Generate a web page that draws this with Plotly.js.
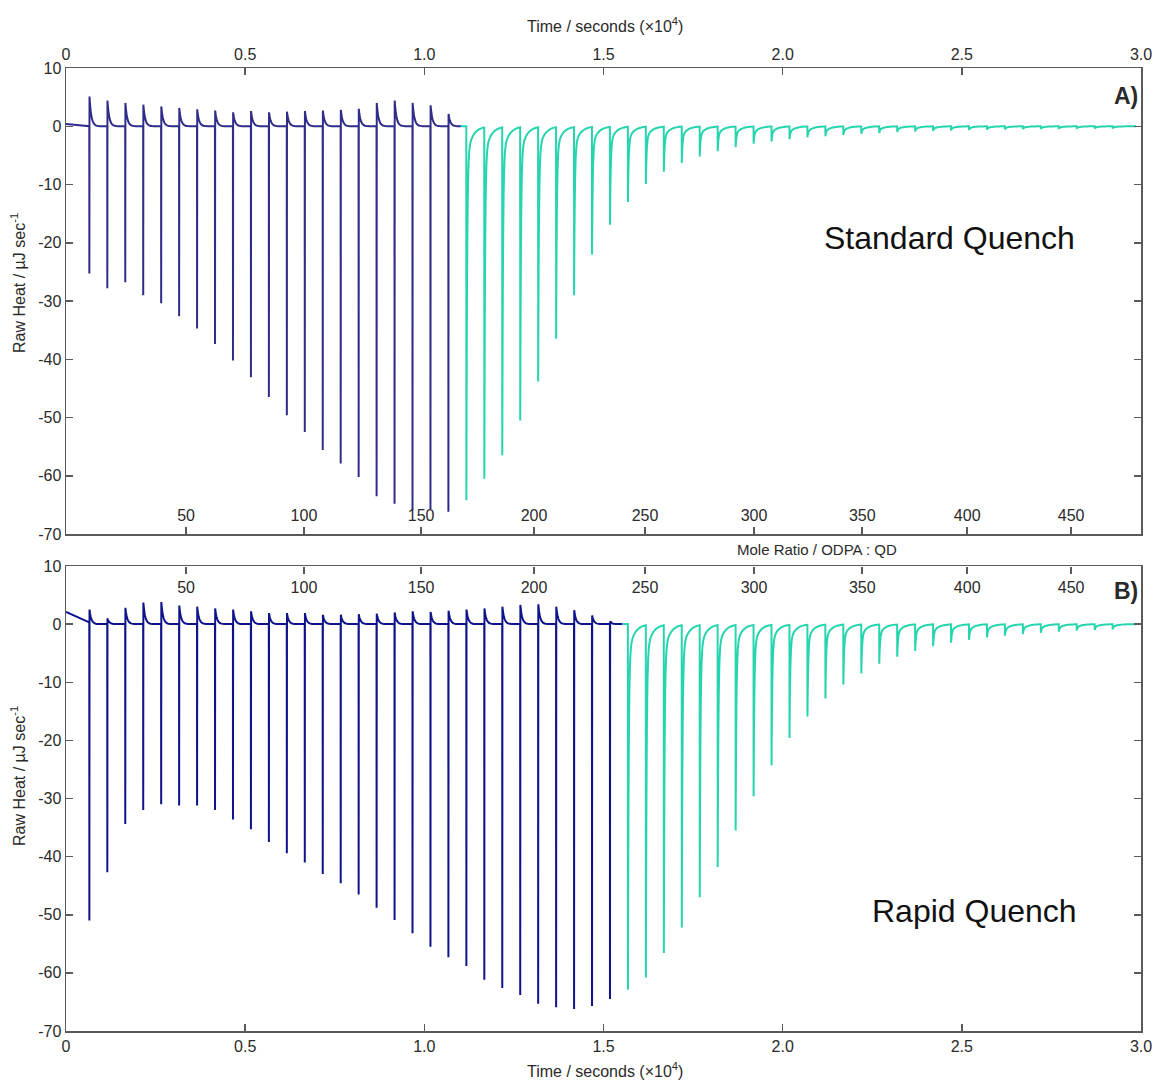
<!DOCTYPE html>
<html>
<head>
<meta charset="utf-8">
<script src="https://cdn.plot.ly/plotly-3.0.1.min.js"></script>
<style>
html,body{margin:0;padding:0;background:#fff;}
#chart{width:1164px;height:1081px;}
</style>
</head>
<body>
<div id="chart"></div>
<script>
// ---------------- DATA ----------------
// injection times, seconds (shared by both experiments)
const injectionTimes = [650, 1151, 1652, 2153, 2654, 3155, 3656, 4157, 4658, 5159,
  5660, 6161, 6662, 7163, 7664, 8165, 8666, 9167, 9668, 10169,
  10670, 11171, 11672, 12173, 12674, 13175, 13676, 14177, 14678, 15179,
  15680, 16181, 16682, 17183, 17684, 18185, 18686, 19187, 19688, 20189,
  20690, 21191, 21692, 22193, 22694, 23195, 23696, 24197, 24698, 25199,
  25700, 26201, 26702, 27203, 27704, 28205, 28706, 29207];
const endTime = 29860;

// A) Standard Quench
const darkCountA = 21;
const peakMinA = [-25.3, -27.8, -26.8, -29.0, -30.4, -32.6, -34.7, -37.4, -40.2, -43.1,
  -46.5, -49.6, -52.5, -55.6, -57.9, -60.2, -63.5, -64.8, -65.8, -65.7,
  -66.2, -64.2, -60.5, -56.5, -50.5, -43.8, -36.5, -29.0, -22.0, -16.9,
  -13.0, -9.9, -7.8, -6.3, -5.2, -4.3, -3.6, -3.0, -2.6, -2.2,
  -1.9, -1.7, -1.5, -1.3, -1.15, -1.0, -0.9, -0.8, -0.72, -0.65,
  -0.6, -0.55, -0.5, -0.48, -0.45, -0.42, -0.4, -0.38];
const peakMaxA = [5.1, 4.4, 4.0, 3.7, 3.4, 3.15, 2.9, 2.7, 2.4, 2.6,
  2.4, 2.5, 2.6, 2.7, 2.8, 3.0, 4.0, 4.4, 4.0, 3.6, 2.1];
const startLevelsA = [0.4, 0.0];

// B) Rapid Quench
const darkCountB = 30;
const peakMinB = [-51.0, -42.7, -34.4, -32.0, -31.0, -31.2, -31.2, -32.0, -33.6, -35.3,
  -37.5, -39.4, -41.0, -43.0, -44.6, -46.5, -48.8, -50.9, -53.2, -55.5,
  -57.3, -58.8, -61.2, -62.6, -63.8, -65.3, -65.9, -66.2, -65.7, -64.5,
  -62.9, -60.8, -56.6, -52.2, -47.0, -41.8, -35.5, -29.6, -24.3, -19.6,
  -15.9, -12.8, -10.4, -8.5, -6.8, -5.6, -4.6, -3.8, -3.2, -2.7,
  -2.3, -2.0, -1.7, -1.5, -1.3, -1.1, -1.0, -0.9];
const peakMaxB = [2.5, 1.0, 2.8, 3.7, 3.8, 3.2, 3.0, 2.7, 2.5, 2.2,
  1.9, 1.9, 1.9, 1.6, 1.6, 1.7, 1.8, 2.0, 2.2, 2.1,
  2.3, 2.5, 2.7, 3.0, 3.3, 3.4, 3.0, 2.4, 1.5, 0.5];
const startLevelsB = [2.1, 0.3];

// axis ticks
const timeTickVals = [0, 5000, 10000, 15000, 20000, 25000, 30000];
const timeTickText = ['0', '0.5', '1.0', '1.5', '2.0', '2.5', '3.0'];
const heatTickVals = [-70, -60, -50, -40, -30, -20, -10, 0, 10];
const heatTickText = ['-70', '-60', '-50', '-40', '-30', '-20', '-10', '0', '10'];
const moleRatioLabels = ['50', '100', '150', '200', '250', '300', '350', '400', '450'];
const moleRatioTimes = [3350, 6640, 9910, 13060, 16160, 19200, 22220, 25150, 28050];

// ---------------- BUILD TRACE SHAPES ----------------
const SCALE = 1e4; // axis unit: x10^4 s
const frac = [0.004, 0.012, 0.02, 0.03, 0.045, 0.06, 0.08, 0.1, 0.13, 0.16, 0.2, 0.25,
  0.3, 0.36, 0.43, 0.5, 0.6, 0.7, 0.8, 0.9, 1.0, 1.1, 1.2, 1.3];

function kernelDark(mx, f) { // after spike: positive overshoot decaying
  return mx * Math.exp(-(f - 0.012) / 0.1);
}
function kernelGreen(mn, f) { // recovery after the negative spike
  const u = f - 0.004;
  const slow = -Math.min(0.7 * Math.sqrt(-mn), -0.5 * mn);
  const fast = mn - slow;
  return fast * Math.exp(-u / 0.04) + slow * Math.exp(-u / 0.3);
}

function buildPanel(mins, maxs, nDark, startLevels) {
  const T = injectionTimes;
  const N = T.length;
  const pts = [];
  pts.push([0, startLevels[0]]);
  pts.push([T[0], startLevels[1]]);
  for (let i = 0; i < N; i++) {
    const t = T[i];
    const D = i < N - 1 ? T[i + 1] - t : t - T[i - 1];
    const limit = i < N - 1 ? T[i + 1] : endTime;
    pts.push([t + 0.004 * D, mins[i]]);
    for (const f of frac) {
      if (f <= 0.004) continue;
      const x = t + f * D;
      if (x > limit + 1e-6) break;
      let y;
      if (i < nDark) {
        if (f < 0.012) continue;
        y = kernelDark(maxs[i], f);
      } else {
        y = kernelGreen(mins[i], f);
      }
      pts.push([x, y]);
    }
    if (i === N - 1) {
      const f = (endTime - t) / D;
      pts.push([endTime, kernelGreen(mins[i], f)]);
    }
  }
  const tSwitch = T[nDark - 1] + 0.7 * (T[nDark] - T[nDark - 1]);
  const dark = {x: [], y: []}, green = {x: [], y: []};
  for (const p of pts) {
    if (p[0] <= tSwitch + 1e-6) { dark.x.push(p[0] / SCALE); dark.y.push(p[1]); }
    if (p[0] >= tSwitch - 1e-6) { green.x.push(p[0] / SCALE); green.y.push(p[1]); }
  }
  return {dark, green};
}

const panelA = buildPanel(peakMinA, peakMaxA, darkCountA, startLevelsA);
const panelB = buildPanel(peakMinB, peakMaxB, darkCountB, startLevelsB);

const COL_DARK_A = '#302c8a';
const COL_DARK_B = '#0f138b';
const COL_GREEN = '#26d5ae';

function lineTrace(d, color, xa, ya) {
  return {x: d.x, y: d.y, type: 'scatter', mode: 'lines', xaxis: xa, yaxis: ya,
    line: {color: color, width: 2, simplify: false}, hoverinfo: 'skip', showlegend: false};
}

const traces = [
  lineTrace(panelA.dark, COL_DARK_A, 'x', 'y'),
  lineTrace(panelA.green, COL_GREEN, 'x', 'y'),
  lineTrace(panelB.dark, COL_DARK_B, 'x2', 'y2'),
  lineTrace(panelB.green, COL_GREEN, 'x2', 'y2'),
  {x: [], y: [], type: 'scatter', mode: 'lines', xaxis: 'x3', yaxis: 'y', showlegend: false},
  {x: [], y: [], type: 'scatter', mode: 'lines', xaxis: 'x4', yaxis: 'y2', showlegend: false}
];

// ---------------- LAYOUT ----------------
const W = 1164, H = 1081;
const PX = v => v / W, PY = v => 1 - v / H;
const domX = [66 / W, 1141 / W];
const domA = [PY(534), PY(68)];
const domB = [PY(1031), PY(566)];
const FONT = 'Liberation Sans, Arial, Helvetica, sans-serif';
const AXC = '#5a5a5a';
const TXT = '#2a2a2a';
const tickFont = {family: FONT, size: 16, color: TXT};

const timeRange = [0, 30000 / SCALE];
function timeAxis(side, anchor) {
  return {domain: domX, range: timeRange, anchor: anchor, side: side,
    tickmode: 'array', tickvals: timeTickVals.map(v => v / SCALE), ticktext: timeTickText,
    ticks: 'inside', ticklen: 7, tickwidth: 1.5, tickcolor: AXC,
    showline: true, linecolor: AXC, linewidth: 1.5, mirror: true,
    showgrid: false, zeroline: false, tickfont: tickFont, fixedrange: true};
}
function heatAxis(domain, anchor) {
  return {domain: domain, range: [-70, 10], anchor: anchor,
    tickmode: 'array', tickvals: heatTickVals, ticktext: heatTickText,
    ticks: 'inside', ticklen: 7, tickwidth: 1.5, tickcolor: AXC,
    showline: true, linecolor: AXC, linewidth: 1.5, mirror: 'ticks',
    showgrid: false, zeroline: false, tickfont: tickFont, fixedrange: true};
}
// mole-ratio scale drawn as a free axis sitting on the inner edge of each panel
function moleAxis(over, side, pos) {
  return {overlaying: over, anchor: 'free', position: pos, side: side, range: timeRange,
    tickmode: 'array', tickvals: moleRatioTimes.map(v => v / SCALE), ticktext: moleRatioLabels,
    ticks: 'outside', ticklen: 7, tickwidth: 1.5, tickcolor: AXC,
    showline: false, showgrid: false, zeroline: false,
    tickfont: tickFont, fixedrange: true};
}

function ann(text, x, y, size, opts) {
  return Object.assign({text: text, x: PX(x), y: PY(y), xref: 'paper', yref: 'paper',
    xanchor: 'center', yanchor: 'middle', showarrow: false,
    font: {family: FONT, size: size, color: TXT}}, opts || {});
}

const layout = {
  width: W, height: H,
  margin: {l: 0, r: 0, t: 0, b: 0},
  paper_bgcolor: '#ffffff', plot_bgcolor: '#ffffff',
  showlegend: false,
  xaxis: timeAxis('top', 'y'),
  yaxis: heatAxis(domA, 'x'),
  xaxis2: timeAxis('bottom', 'y2'),
  yaxis2: heatAxis(domB, 'x2'),
  xaxis3: moleAxis('x', 'top', domA[0]),
  xaxis4: moleAxis('x2', 'bottom', domB[1]),
  annotations: [
    ann('Time / seconds (×10<sup>4</sup>)', 605, 25, 16),
    ann('Time / seconds (×10<sup>4</sup>)', 605, 1070, 16),
    ann('Mole Ratio / ODPA : QD', 817, 549, 15),
    ann('Raw Heat / µJ sec<sup>-1</sup>', 18, 283, 16, {textangle: -90}),
    ann('Raw Heat / µJ sec<sup>-1</sup>', 18, 776, 16, {textangle: -90}),
    ann('<b>A)</b>', 1126, 96, 23),
    ann('<b>B)</b>', 1126, 591, 23),
    ann('Standard Quench', 949, 238, 32, {font: {family: FONT, size: 32, color: '#111'}}),
    ann('Rapid Quench', 974, 911, 32, {font: {family: FONT, size: 32, color: '#111'}})
  ]
};

Plotly.newPlot('chart', traces, layout, {displayModeBar: false, staticPlot: true});
</script>
</body>
</html>
